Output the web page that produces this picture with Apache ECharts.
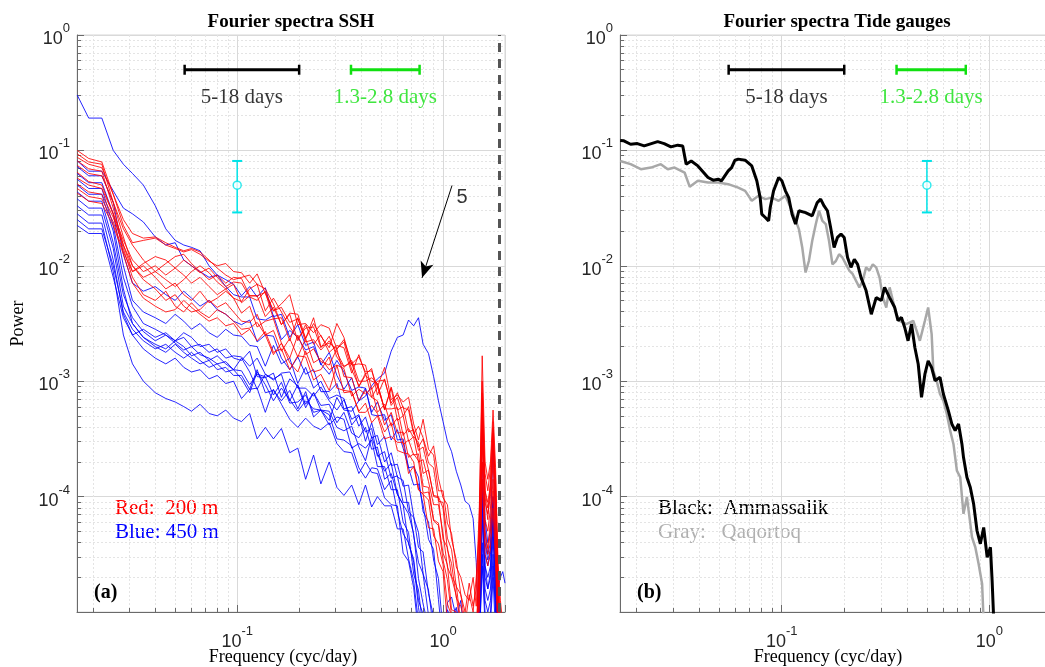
<!DOCTYPE html>
<html>
<head>
<meta charset="utf-8">
<script src="https://cdn.jsdelivr.net/npm/echarts@6.0.0/dist/echarts.min.js"></script>
<style>
  html, body { margin: 0; padding: 0; background: #ffffff; }
  #chart { width: 1045px; height: 667px; }
</style>
</head>
<body>
<div id="chart"></div>
<script>
// ---------- data ----------
// Panel (a): SSH Fourier spectra, frequencies in cyc/day
const freqSSH = [0.0167, 0.019, 0.022, 0.025, 0.028, 0.031, 0.035, 0.04, 0.045, 0.05,
  0.055, 0.06, 0.066, 0.073, 0.08, 0.088, 0.096, 0.105, 0.115, 0.125,
  0.137, 0.15, 0.164, 0.18, 0.197, 0.215, 0.235, 0.255, 0.28, 0.305,
  0.33, 0.36, 0.39, 0.42, 0.45, 0.48, 0.52, 0.56, 0.6, 0.64,
  0.68, 0.72, 0.76, 0.8, 0.85, 0.9, 0.95, 1.0, 1.05, 1.1,
  1.16, 1.22, 1.28, 1.34, 1.4, 1.45, 1.5, 1.55, 1.6, 1.65,
  1.7, 1.75, 1.8, 1.85, 1.9, 1.95, 2.0];

// log10(power) of the 200 m stations (red), one row per station
const logPowerRed200m = [
  [-1.00,-1.07,-1.10,-1.38,-1.65,-1.80,-1.78,-1.76,-1.82,-1.85,-1.88,-1.86,-1.90,-1.96,-2.00,-1.98,-2.05,
   -2.06,-2.15,-2.07,-2.24,-2.39,-2.33,-2.25,-2.51,-2.50,-2.58,-2.51,-2.54,-2.72,-2.64,-2.85,-2.79,-2.92,-2.91,-3.05,-2.88,-3.16,-3.12,-3.18,-3.14,-3.37,-3.51,-3.33,-3.59,-3.64,-3.95,-3.95,-4.23,-4.32,-4.61,
   -4.70,-4.85,-4.90,-4.70,-4.95,-4.20,-2.78,-3.70,-3.85,-3.70,-3.25,-3.75,-4.60,-5.00,-5.25,-5.30],
  [-1.03,-1.10,-1.12,-1.45,-1.75,-2.00,-2.10,-2.05,-2.12,-2.18,-2.12,-2.05,-2.00,-2.06,-2.14,-2.20,-2.16,
   -2.32,-2.26,-2.26,-2.23,-2.46,-2.45,-2.65,-2.45,-2.66,-2.64,-2.73,-2.65,-2.75,-2.87,-2.84,-3.05,-2.93,-3.14,-3.05,-3.24,-3.06,-3.34,-3.30,-3.52,-3.48,-3.53,-3.80,-3.77,-4.00,-4.01,-4.37,-4.44,-4.69,-4.77,
   -5.10,-5.30,-5.30,-5.30,-5.30,-4.50,-3.10,-3.95,-4.10,-3.95,-3.45,-3.95,-4.70,-5.10,-5.30,-5.30],
  [-1.06,-1.12,-1.15,-1.38,-1.60,-1.72,-1.76,-1.75,-1.80,-1.84,-1.87,-1.85,-1.88,-1.95,-2.02,-2.08,-2.12,
   -2.10,-2.08,-2.16,-2.20,-2.33,-2.51,-2.41,-2.42,-2.63,-2.50,-2.61,-2.71,-2.50,-2.62,-2.86,-2.85,-2.86,-3.07,-3.00,-2.99,-3.19,-3.10,-3.23,-3.25,-3.46,-3.39,-3.49,-3.65,-3.56,-3.84,-4.01,-4.07,-4.37,-4.55,
   -4.85,-5.10,-5.30,-5.30,-5.30,-4.40,-3.25,-4.00,-4.20,-3.85,-3.40,-4.00,-4.80,-5.30,-5.30,-5.30],
  [-1.09,-1.16,-1.18,-1.50,-1.82,-2.05,-2.00,-2.10,-2.20,-2.15,-2.25,-2.30,-2.22,-2.32,-2.28,-2.22,-2.28,
   -2.41,-2.35,-2.53,-2.48,-2.46,-2.67,-2.80,-2.60,-2.77,-2.72,-2.83,-2.86,-2.72,-2.96,-2.97,-3.17,-3.08,-3.14,-3.17,-3.38,-3.27,-3.45,-3.44,-3.66,-3.63,-3.69,-3.97,-3.96,-4.21,-4.25,-4.55,-4.72,-5.03,-5.14,
   -5.30,-5.30,-5.30,-5.30,-5.30,-4.60,-3.40,-4.20,-4.30,-4.10,-3.70,-4.20,-5.00,-5.30,-5.30,-5.30],
  [-1.13,-1.20,-1.22,-1.45,-1.68,-1.82,-1.95,-2.05,-1.98,-1.92,-1.90,-1.98,-2.05,-2.12,-2.08,-2.15,-2.10,
   -2.11,-2.26,-2.26,-2.44,-2.36,-2.51,-2.42,-2.65,-2.51,-2.68,-2.60,-2.75,-2.69,-2.71,-2.93,-2.77,-2.94,-2.89,-3.12,-2.98,-3.21,-3.14,-3.30,-3.22,-3.44,-3.57,-3.50,-3.71,-3.75,-4.04,-4.05,-4.36,-4.46,-4.78,
   -4.85,-5.00,-4.75,-4.95,-4.80,-4.10,-3.00,-3.80,-3.95,-3.75,-3.35,-3.85,-4.60,-4.90,-5.10,-5.30],
  [-1.19,-1.27,-1.30,-1.55,-1.85,-2.10,-2.25,-2.30,-2.22,-2.35,-2.40,-2.32,-2.40,-2.45,-2.38,-2.42,-2.48,
   -2.55,-2.54,-2.49,-2.60,-2.77,-2.67,-2.84,-2.92,-2.74,-2.92,-2.90,-2.79,-3.06,-3.08,-3.09,-3.27,-3.27,-3.21,-3.28,-3.44,-3.36,-3.60,-3.62,-3.63,-3.70,-3.94,-3.98,-4.03,-4.34,-4.41,-4.59,-4.93,-5.03,-5.30,
   -5.30,-5.30,-5.30,-5.30,-5.30,-4.80,-3.55,-4.30,-4.45,-4.20,-3.85,-4.35,-5.10,-5.30,-5.30,-5.30],
  [-1.24,-1.30,-1.33,-1.55,-1.78,-1.95,-2.05,-2.00,-2.08,-2.02,-1.95,-2.00,-2.06,-2.02,-2.10,-2.18,-2.14,
   -2.15,-2.27,-2.30,-2.22,-2.39,-2.36,-2.49,-2.46,-2.63,-2.45,-2.70,-2.67,-2.72,-2.66,-2.90,-3.04,-2.95,-3.00,-3.02,-3.25,-3.05,-3.25,-3.22,-3.44,-3.42,-3.60,-3.57,-3.77,-3.99,-4.00,-4.10,-4.46,-4.58,-4.88,
   -4.95,-5.10,-4.85,-5.00,-4.70,-4.30,-3.15,-3.95,-4.05,-3.90,-3.50,-3.95,-4.75,-5.20,-5.30,-5.30],
  [-1.29,-1.36,-1.38,-1.58,-1.82,-2.00,-2.12,-2.20,-2.30,-2.25,-2.35,-2.40,-2.38,-2.30,-2.36,-2.32,-2.40,
   -2.48,-2.49,-2.42,-2.60,-2.56,-2.74,-2.63,-2.79,-2.63,-2.84,-2.80,-2.90,-2.86,-2.89,-3.13,-3.07,-3.11,-3.06,-3.27,-3.20,-3.39,-3.32,-3.55,-3.51,-3.64,-3.63,-3.91,-3.92,-4.20,-4.23,-4.49,-4.59,-4.98,-5.00,
   -5.30,-5.30,-5.30,-5.30,-5.30,-4.90,-3.70,-4.40,-4.50,-4.30,-3.95,-4.45,-5.20,-5.30,-5.30,-5.30],
  [-1.33,-1.40,-1.42,-1.62,-1.88,-2.05,-1.98,-1.92,-1.95,-2.02,-2.08,-2.15,-2.10,-2.18,-2.25,-2.20,-2.28,
   -2.31,-2.20,-2.16,-2.39,-2.28,-2.40,-2.53,-2.63,-2.54,-2.53,-2.71,-2.61,-2.79,-2.88,-2.82,-3.00,-3.00,-2.97,-3.02,-3.24,-3.24,-3.23,-3.47,-3.41,-3.49,-3.70,-3.68,-3.87,-4.07,-4.07,-4.32,-4.61,-4.70,-4.86,
   -5.15,-5.30,-5.30,-5.30,-5.30,-4.40,-3.30,-4.05,-4.15,-4.00,-3.60,-4.10,-4.85,-5.30,-5.30,-5.30],
  [-1.37,-1.44,-1.46,-1.65,-1.90,-2.15,-2.28,-2.35,-2.40,-2.38,-2.30,-2.36,-2.42,-2.48,-2.45,-2.52,-2.50,
   -2.60,-2.55,-2.65,-2.57,-2.75,-2.72,-2.90,-2.78,-2.79,-2.99,-2.94,-3.08,-2.86,-3.10,-3.09,-3.26,-3.19,-3.36,-3.30,-3.50,-3.48,-3.53,-3.53,-3.80,-3.74,-3.94,-3.98,-4.27,-4.28,-4.56,-4.65,-5.09,-5.23,-5.23,
   -5.30,-5.30,-5.30,-5.30,-5.30,-5.00,-3.85,-4.50,-4.60,-4.45,-4.10,-4.60,-5.30,-5.30,-5.30,-5.30]
];

// log10(power) of the 450 m stations (blue), one row per station
const logPowerBlue450m = [
  [-0.52,-0.72,-0.72,-1.00,-1.12,-1.20,-1.30,-1.48,-1.68,-1.78,-1.82,-1.84,-1.87,-2.00,-2.08,-2.12,-2.16,
   -2.26,-2.18,-2.27,-2.19,-2.44,-2.42,-2.62,-2.51,-2.69,-2.66,-2.86,-2.75,-2.95,-3.07,-2.97,-3.17,-3.06,-3.27,-3.18,-3.34,-3.29,-3.51,-3.50,-3.75,-3.74,-3.83,-4.13,-4.22,-4.55,-4.71,-5.17,-5.30,-5.30,-5.30,
   -5.30,-5.30,-5.30,-5.30,-5.30,-4.60,-3.70,-4.30,-4.50,-4.40,-4.00,-4.50,-5.30,-5.30,-5.30,-5.30],
  [-1.09,-1.18,-1.18,-1.35,-1.50,-1.55,-1.62,-1.75,-1.82,-1.80,-1.95,-2.00,-2.05,-2.10,-2.08,-2.18,-2.25,
   -2.27,-2.27,-2.46,-2.47,-2.43,-2.64,-2.56,-2.62,-2.73,-2.70,-2.85,-2.94,-2.82,-2.92,-3.08,-3.05,-3.06,-3.29,-3.30,-3.29,-3.51,-3.42,-3.58,-3.75,-3.90,-3.89,-4.07,-4.37,-4.46,-4.89,-5.30,-4.92,-4.87,-5.05,
   -4.90,-5.30,-5.30,-5.30,-5.30,-4.80,-3.35,-4.20,-4.40,-4.30,-3.55,-4.30,-5.30,-5.30,-5.30,-5.30],
  [-1.14,-1.22,-1.22,-1.45,-1.90,-2.15,-2.22,-2.18,-2.25,-2.30,-2.22,-2.28,-2.35,-2.30,-2.38,-2.42,-2.48,
   -2.51,-2.47,-2.66,-2.60,-2.61,-2.80,-2.90,-2.79,-2.94,-2.90,-3.09,-3.09,-3.02,-3.24,-3.22,-3.39,-3.31,-3.49,-3.47,-3.70,-3.62,-3.83,-3.86,-4.13,-4.18,-4.31,-4.67,-4.81,-5.16,-5.20,-5.30,-5.30,-5.30,-5.30,
   -5.30,-5.30,-5.30,-5.30,-5.30,-4.90,-3.90,-4.50,-4.60,-4.50,-4.00,-4.60,-5.30,-5.30,-5.30,-5.30],
  [-1.20,-1.28,-1.28,-1.55,-2.00,-2.30,-2.40,-2.45,-2.50,-2.42,-2.48,-2.55,-2.50,-2.58,-2.62,-2.55,-2.60,
   -2.61,-2.69,-2.70,-2.87,-2.69,-2.85,-2.80,-3.02,-2.88,-3.06,-3.00,-3.15,-3.12,-3.15,-3.38,-3.30,-3.44,-3.41,-3.65,-3.61,-3.84,-3.82,-4.05,-4.05,-4.34,-4.57,-4.67,-5.03,-5.30,-5.30,-5.30,-5.30,-5.30,-5.30,
   -5.30,-5.30,-5.30,-5.30,-5.30,-5.00,-4.00,-4.60,-4.70,-4.60,-4.10,-4.70,-5.30,-5.30,-5.30,-5.30],
  [-1.25,-1.33,-1.33,-1.65,-2.10,-2.35,-2.50,-2.55,-2.60,-2.65,-2.58,-2.62,-2.70,-2.68,-2.75,-2.72,-2.80,
   -2.82,-2.74,-2.96,-2.97,-2.93,-3.14,-2.98,-3.04,-3.23,-3.10,-3.25,-3.34,-3.14,-3.25,
   -3.26,-3.17,-3.13,-3.04,-2.98,-2.93,-2.74,-2.62,-2.60,-2.47,-2.52,-2.45,-2.68,-2.76,-2.96,-3.17,-3.35,-3.52,-3.61,-3.78,
   -3.90,-4.04,-4.07,-4.19,-4.57,-5.30,-3.85,-4.40,-4.55,-4.45,-4.05,-4.55,-5.30,-5.30,-5.30,-5.30],
  [-1.30,-1.38,-1.38,-1.70,-2.20,-2.50,-2.62,-2.68,-2.72,-2.65,-2.70,-2.78,-2.75,-2.82,-2.78,-2.85,-2.90,
   -2.91,-3.03,-2.94,-2.96,-3.12,-3.01,-3.19,-3.18,-3.12,-3.27,-3.25,-3.26,-3.40,-3.43,-3.39,-3.57,-3.69,-3.48,-3.63,-3.78,-3.71,-3.98,-4.07,-4.15,-4.32,-4.71,-4.93,-5.13,-5.30,-5.30,-5.30,-5.30,-5.30,-5.30,
   -5.30,-5.30,-5.30,-5.30,-5.30,-5.10,-4.10,-4.70,-4.80,-4.70,-4.25,-4.80,-5.30,-5.30,-5.30,-5.30],
  [-1.36,-1.44,-1.44,-1.80,-2.25,-2.45,-2.57,-2.65,-2.60,-2.67,-2.73,-2.70,-2.77,-2.80,-2.85,-2.83,-2.90,
   -2.80,-2.92,-3.07,-2.94,-2.98,-2.94,-3.17,-3.03,-3.20,-3.10,-3.21,-3.20,-3.36,-3.27,-3.45,-3.49,-3.40,-3.59,-3.57,-3.85,-3.80,-3.98,-4.07,-4.41,-4.54,-4.90,-5.02,-5.30,-5.30,-5.30,-5.30,-5.30,-5.30,-5.30,
   -5.30,-5.30,-5.30,-5.30,-5.30,-5.20,-4.20,-4.80,-4.90,-4.80,-4.35,-4.90,-5.30,-5.30,-5.30,-5.30],
  [-1.42,-1.50,-1.50,-1.85,-2.35,-2.50,-2.62,-2.70,-2.75,-2.68,-2.75,-2.80,-2.85,-2.82,-2.90,-2.88,-2.95,
   -2.95,-3.07,-2.90,-3.10,-3.08,-3.17,-3.08,-3.24,-3.09,-3.31,-3.25,-3.38,-3.31,-3.33,-3.58,-3.54,-3.58,-3.51,-3.74,-3.74,-3.94,-3.94,-4.22,-4.31,-4.67,-4.81,-5.15,-5.30,-5.30,-5.30,-5.30,-5.30,-5.30,-5.30,
   -5.30,-5.30,-5.30,-5.30,-5.30,-5.30,-4.40,-4.90,-5.00,-4.90,-4.50,-5.00,-5.30,-5.30,-5.30,-5.30],
  [-1.48,-1.56,-1.56,-1.95,-2.42,-2.60,-2.72,-2.80,-2.85,-2.80,-2.88,-2.92,-2.90,-2.98,-2.95,-3.02,-3.00,
   -3.15,-3.07,-3.06,-3.27,-3.07,-3.20,-3.33,-3.40,-3.32,-3.39,-3.42,-3.36,-3.54,-3.61,-3.62,-3.80,-3.70,-3.79,-3.80,-4.01,-4.07,-4.08,-4.49,-4.56,-4.79,-5.18,-5.30,-5.30,-5.30,-5.30,-5.30,-5.30,-5.30,-5.30,
   -5.30,-5.30,-5.30,-5.30,-5.30,-5.30,-4.60,-5.10,-5.20,-5.10,-4.70,-5.20,-5.30,-5.30,-5.30,-5.30],
  [-1.55,-1.63,-1.63,-2.05,-2.60,-2.85,-3.00,-3.10,-3.15,-3.18,-3.22,-3.26,-3.20,-3.28,-3.30,-3.25,-3.32,
   -3.35,-3.28,-3.50,-3.40,-3.50,-3.41,-3.62,-3.58,-3.85,-3.64,-3.89,-3.70,-3.92,-3.99,-3.90,-4.07,-3.90,-4.09,-4.00,-4.08,-4.08,-4.28,-4.28,-4.54,-4.73,-5.09,-5.30,-5.30,-5.30,-5.30,-5.30,-5.30,-5.30,-5.30,
   -5.30,-5.30,-5.30,-5.30,-5.30,-5.30,-5.30,-5.30,-5.30,-5.30,-5.30,-5.30,-5.30,-5.30,-5.30,-5.30],
  [-1.60,-1.68,-1.68,-2.00,-2.40,-2.55,-2.65,-2.72,-2.68,-2.75,-2.80,-2.75,-2.82,-2.88,-2.85,-2.92,-2.90,
   -2.98,-3.10,-2.92,-3.03,-3.17,-3.06,-3.16,-3.26,-3.17,-3.24,-3.25,-3.29,-3.50,-3.51,-3.56,-3.75,-3.84,-3.75,-3.76,-3.94,-3.86,-4.13,-4.32,-4.40,-4.57,-4.96,-5.23,-5.30,-5.30,-5.30,-5.30,-5.30,-5.30,-5.30,
   -5.30,-5.30,-5.30,-5.30,-5.30,-5.30,-4.50,-5.00,-5.10,-5.00,-4.60,-5.00,-4.80,-4.70,-4.65,-4.75],
  [-1.65,-1.72,-1.72,-2.10,-2.45,-2.60,-2.55,-2.62,-2.58,-2.65,-2.62,-2.70,-2.68,-2.75,-2.72,-2.80,-2.78,
   -2.79,-2.87,-2.80,-2.94,-2.99,-2.93,-2.92,-3.06,-3.06,-3.13,-3.05,-3.17,-3.25,-3.16,-3.33,-3.29,-3.52,-3.36,-3.55,-3.48,-3.73,-3.72,-3.91,-3.90,-4.17,-4.44,-4.48,-4.84,-5.04,-5.30,-5.25,-4.98,-5.07,-4.96,
   -5.30,-5.30,-5.30,-5.30,-5.30,-5.00,-3.95,-4.60,-4.80,-4.65,-4.15,-4.75,-5.30,-5.30,-5.30,-5.30]
];

// Panel (b): tide gauge spectra
const freqAmmassalik = [0.0167, 0.0174, 0.01875, 0.0202, 0.0218, 0.0253, 0.0272, 0.0293, 0.0316, 0.0334,
  0.0347, 0.0367, 0.0395, 0.0442, 0.0468, 0.0495, 0.0513, 0.0553, 0.0574, 0.0596,
  0.0618, 0.0667, 0.0718, 0.0759, 0.0788, 0.0802, 0.0834, 0.0865, 0.0881, 0.0914,
  0.0967, 0.1002, 0.1042, 0.1081, 0.1122, 0.1166, 0.121, 0.1303, 0.1403, 0.1483,
  0.154, 0.160, 0.166, 0.172, 0.1788, 0.1855, 0.193, 0.200, 0.2075, 0.2155,
  0.2237, 0.232, 0.241, 0.2548, 0.27, 0.285, 0.3015, 0.3128, 0.3307, 0.350,
  0.363, 0.377, 0.391, 0.4058, 0.4215, 0.4375, 0.454, 0.471, 0.489, 0.507,
  0.527, 0.547, 0.578, 0.600, 0.634, 0.659, 0.684, 0.710, 0.737, 0.750,
  0.779, 0.809, 0.839, 0.871, 0.904, 0.938, 0.975, 1.011, 1.03, 1.05];
const powerAmmassalik = [0.122, 0.121, 0.113, 0.1145, 0.1094, 0.119, 0.1145, 0.1072, 0.111, 0.109,
  0.076, 0.081, 0.0734, 0.0582, 0.0552, 0.0563, 0.0545, 0.0665, 0.071, 0.0822,
  0.084, 0.0822, 0.0734, 0.0545, 0.039, 0.028, 0.0262, 0.0245, 0.032, 0.0446,
  0.0582, 0.0545, 0.0446, 0.039, 0.028, 0.023, 0.030, 0.0289, 0.0271, 0.0353,
  0.0378, 0.033, 0.030, 0.0215, 0.0144, 0.0176, 0.0188, 0.0176, 0.0118, 0.0097,
  0.0114, 0.0103, 0.0079, 0.0061, 0.0038, 0.0053, 0.005, 0.0065, 0.0053, 0.00435,
  0.00334, 0.00357, 0.00292, 0.00224, 0.00313, 0.00196, 0.00141, 0.000725, 0.00115, 0.0015,
  0.00131, 0.00101, 0.00108, 0.000775, 0.000556, 0.000426, 0.000373, 0.000426, 0.000286, 0.000219,
  0.000147, 0.00012, 8.65e-5, 5.08e-5, 3.9e-5, 5.4e-5, 2.98e-5, 3.64e-5, 1.87e-5, 8e-6];

const freqQaqortoq = [0.0167, 0.01875, 0.021, 0.0235, 0.0262, 0.0283, 0.0305, 0.0341, 0.0361, 0.0395,
  0.0442, 0.0495, 0.0553, 0.0618, 0.0667, 0.0718, 0.0773, 0.0834, 0.0897, 0.0967,
  0.1042, 0.1122, 0.121, 0.1256, 0.1303, 0.1352, 0.1403, 0.146, 0.1513, 0.157,
  0.163, 0.169, 0.1755, 0.1823, 0.189, 0.196, 0.204, 0.2115, 0.2195, 0.2365,
  0.2455, 0.2548, 0.2645, 0.2745, 0.285, 0.296, 0.307, 0.3187, 0.3307, 0.343,
  0.3565, 0.370, 0.398, 0.4295, 0.446, 0.4624, 0.489, 0.507, 0.527, 0.537,
  0.557, 0.578, 0.600, 0.6235, 0.647, 0.671, 0.697, 0.7235, 0.750, 0.779,
  0.809, 0.824, 0.855, 0.887, 0.922, 0.938];
const powerQaqortoq = [0.081, 0.076, 0.0687, 0.071, 0.076, 0.0687, 0.071, 0.0643, 0.0483, 0.0545,
  0.0526, 0.0526, 0.051, 0.0476, 0.0446, 0.0366, 0.0404, 0.0378, 0.039, 0.0366,
  0.0404, 0.030, 0.0208, 0.0144, 0.00875, 0.011, 0.0165, 0.023, 0.030, 0.0245,
  0.023, 0.0165, 0.0103, 0.011, 0.0126, 0.0118, 0.0103, 0.0091, 0.0085, 0.0065,
  0.0074, 0.0097, 0.0091, 0.0103, 0.0097, 0.0079, 0.0053, 0.00435, 0.0065, 0.005,
  0.0038, 0.00334, 0.00313, 0.00334, 0.00274, 0.00224, 0.00334, 0.00435, 0.00256, 0.00123,
  0.00101, 0.000775, 0.000678, 0.00052, 0.000373, 0.000286, 0.000168, 0.000147, 7.1e-5, 9.9e-5,
  5.8e-5, 4.45e-5, 3.64e-5, 2.61e-5, 1.75e-5, 8e-6];

// Period bands (cyc/day) drawn at power 0.5, with their captions
const bandSynoptic = [1 / 18, 1 / 5];
const bandShort = [1 / 2.8, 1 / 1.3];
const bandLevel = 0.5;
const bandCaptions = ['5-18 days', '1.3-2.8 days'];
const bandCaptionLevel = 0.29;

// Confidence interval marker: [frequency panel a, frequency panel b], centre, range
const ciFreq = [0.1, 0.5];
const ciCentre = 0.05;
const ciRange = [0.029, 0.081];

// Panel (a) extras
const tideLineFreq = 1.87;
const arrowFrom = [1.106, 0.0497];
const arrowTo = [0.791, 0.00787];
const arrowCaption = '5';
const arrowCaptionAt = [1.236, 0.039];

// ---------- chart ----------
const SERIF = "'Liberation Serif', 'Times New Roman', serif";
const SANS = "'Liberation Sans', Arial, Helvetica, sans-serif";
const AXIS_COLOR = '#6a6a6a';
const CYAN = '#00e3e8';
const GREEN = '#10e010';

function powTenLabel(v) {
  const e = Math.log10(v);
  const r = Math.round(e);
  if (Math.abs(e - r) > 1e-6) return '';
  return '{b|10}{s|' + r + '}';
}
const labelRich = {
  b: { fontFamily: SANS, fontSize: 18, color: '#262626', lineHeight: 26, verticalAlign: 'bottom' },
  s: { fontFamily: SANS, fontSize: 13, color: '#262626', lineHeight: 12, verticalAlign: 'top' }
};

function freqAxis(gridIndex) {
  return {
    type: 'log', logBase: 10, gridIndex: gridIndex, min: 1 / 60, max: 2,
    axisLine: { show: true, onZero: false, lineStyle: { color: AXIS_COLOR, width: 1 } },
    axisTick: { show: true, inside: true, length: 7, lineStyle: { color: AXIS_COLOR } },
    minorTick: { show: true, splitNumber: 9, length: 4, lineStyle: { color: AXIS_COLOR } },
    splitLine: { show: true, lineStyle: { color: '#d9d9d9', width: 1 } },
    minorSplitLine: { show: true, lineStyle: { color: '#e4e4e4', width: 1, type: [2, 2] } },
    axisLabel: { formatter: powTenLabel, rich: labelRich, margin: 13, showMinLabel: false, showMaxLabel: false }
  };
}
function powerAxis(gridIndex, name) {
  return {
    type: 'log', logBase: 10, gridIndex: gridIndex, min: 1e-5, max: 1,
    axisLine: { show: true, onZero: false, lineStyle: { color: AXIS_COLOR, width: 1 } },
    axisTick: { show: true, inside: true, length: 7, lineStyle: { color: AXIS_COLOR } },
    minorTick: { show: true, splitNumber: 9, length: 4, lineStyle: { color: AXIS_COLOR } },
    splitLine: { show: true, lineStyle: { color: '#d9d9d9', width: 1 } },
    minorSplitLine: { show: true, lineStyle: { color: '#e4e4e4', width: 1, type: [2, 2] } },
    axisLabel: { formatter: powTenLabel, rich: labelRich, margin: 7, showMinLabel: false },
    name: name, nameLocation: 'middle', nameGap: 50, nameRotate: 90,
    nameTextStyle: { fontFamily: SERIF, fontSize: 18, color: '#000' }
  };
}

function spectrum(axis, freqs, values, color, width, opacity) {
  return {
    type: 'line', xAxisIndex: axis, yAxisIndex: axis, silent: true,
    data: freqs.map((f, i) => [f, values[i]]),
    symbol: 'none', lineStyle: { color: color, width: width, opacity: opacity }, z: 3
  };
}
function caption(axis, at, text, color, family, size) {
  return {
    type: 'scatter', xAxisIndex: axis, yAxisIndex: axis, silent: true, z: 6,
    data: [at], symbolSize: 1, itemStyle: { color: 'rgba(0,0,0,0)' },
    label: { show: true, position: 'inside', formatter: text, color: color, fontFamily: family, fontSize: size }
  };
}
function band(axis, range, color) {
  return {
    type: 'line', xAxisIndex: axis, yAxisIndex: axis, silent: true, z: 5,
    data: [[range[0], bandLevel], [range[1], bandLevel]],
    symbol: 'rect', symbolSize: [2.5, 10], showSymbol: true,
    lineStyle: { color: color, width: 3 }, itemStyle: { color: color }
  };
}
function ciMarker(axis) {
  return [{
    type: 'line', xAxisIndex: axis, yAxisIndex: axis, silent: true, z: 5,
    data: [[ciFreq[axis], ciRange[0]], [ciFreq[axis], ciRange[1]]],
    symbol: 'rect', symbolSize: [10, 2], showSymbol: true,
    lineStyle: { color: CYAN, width: 1.5 }, itemStyle: { color: CYAN }
  }, {
    type: 'scatter', xAxisIndex: axis, yAxisIndex: axis, silent: true, z: 6,
    data: [[ciFreq[axis], ciCentre]], symbol: 'circle', symbolSize: 8,
    itemStyle: { color: '#ffffff', borderColor: CYAN, borderWidth: 1.5 }
  }];
}

const series = [];
logPowerBlue450m.forEach(row => series.push(spectrum(0, freqSSH, row.map(v => Math.pow(10, v)), '#0000ff', 1, 0.85)));
logPowerRed200m.forEach(row => series.push(spectrum(0, freqSSH, row.map(v => Math.pow(10, v)), '#ff0000', 1, 0.85)));
series.push(spectrum(1, freqQaqortoq, powerQaqortoq, '#a8a8a8', 2.5, 1));
series.push(spectrum(1, freqAmmassalik, powerAmmassalik, '#000000', 3, 1));

[0, 1].forEach(p => {
  series.push(band(p, bandSynoptic, '#000000'));
  series.push(band(p, bandShort, GREEN));
  series.push(caption(p, [Math.sqrt(bandSynoptic[0] * bandSynoptic[1]), bandCaptionLevel], bandCaptions[0], '#000', SERIF, 21));
  series.push(caption(p, [Math.sqrt(bandShort[0] * bandShort[1]), bandCaptionLevel], bandCaptions[1], GREEN, SERIF, 21));
  ciMarker(p).forEach(s => series.push(s));
});

// tidal reference line and the arrow pointing at station 5
series.push({
  type: 'line', xAxisIndex: 0, yAxisIndex: 0, data: [], silent: true, z: 7,
  markLine: {
    silent: true, animation: false, symbol: ['none', 'none'], label: { show: false },
    emphasis: { disabled: true },
    data: [
      { xAxis: tideLineFreq, lineStyle: { type: [9, 7], color: '#555555', width: 3 } },
      [
        { coord: arrowFrom, symbol: 'none', lineStyle: { color: '#000', width: 1, type: 'solid' } },
        { coord: arrowTo, symbol: 'arrow', symbolSize: [10, 16] }
      ]
    ]
  }
});
series.push(caption(0, arrowCaptionAt, arrowCaption, '#000', SANS, 20));

const gridBase = { top: 35, height: 577, show: true, borderColor: '#d6d6d6', borderWidth: 1,
  backgroundColor: 'transparent', containLabel: false, outerBoundsMode: 'none' };

const chart = echarts.init(document.getElementById('chart'), null, { renderer: 'canvas' });
chart.setOption({
  animation: false,
  backgroundColor: '#ffffff',
  grid: [
    Object.assign({ left: 77, width: 428 }, gridBase),
    Object.assign({ left: 620, width: 432 }, gridBase)
  ],
  xAxis: [freqAxis(0), freqAxis(1)],
  yAxis: [powerAxis(0, 'Power'), powerAxis(1, '')],
  series: series,
  graphic: [
    { type: 'text', x: 291, y: 22, style: { text: 'Fourier spectra SSH', font: 'bold 19px ' + SERIF, fill: '#000', align: 'center', verticalAlign: 'middle' } },
    { type: 'text', x: 837, y: 22, style: { text: 'Fourier spectra Tide gauges', font: 'bold 19px ' + SERIF, fill: '#000', align: 'center', verticalAlign: 'middle' } },
    { type: 'text', x: 283, y: 657, style: { text: 'Frequency (cyc/day)', font: '18px ' + SERIF, fill: '#000', align: 'center', verticalAlign: 'middle' } },
    { type: 'text', x: 828, y: 657, style: { text: 'Frequency (cyc/day)', font: '18px ' + SERIF, fill: '#000', align: 'center', verticalAlign: 'middle' } },
    { type: 'text', x: 115, y: 508, style: { text: 'Red:  200 m', font: '21px ' + SERIF, fill: '#ff0000', verticalAlign: 'middle' } },
    { type: 'text', x: 115, y: 532, style: { text: 'Blue: 450 m', font: '21px ' + SERIF, fill: '#0000ff', verticalAlign: 'middle' } },
    { type: 'text', x: 94, y: 593, style: { text: '(a)', font: 'bold 20px ' + SERIF, fill: '#000', verticalAlign: 'middle' } },
    { type: 'text', x: 658, y: 508, style: { text: 'Black:  Ammassalik', font: '21px ' + SERIF, fill: '#000', verticalAlign: 'middle' } },
    { type: 'text', x: 658, y: 532, style: { text: 'Gray:   Qaqortoq', font: '21px ' + SERIF, fill: '#b0b0b0', verticalAlign: 'middle' } },
    { type: 'text', x: 637, y: 593, style: { text: '(b)', font: 'bold 20px ' + SERIF, fill: '#000', verticalAlign: 'middle' } }
  ]
});
</script>
</body>
</html>
